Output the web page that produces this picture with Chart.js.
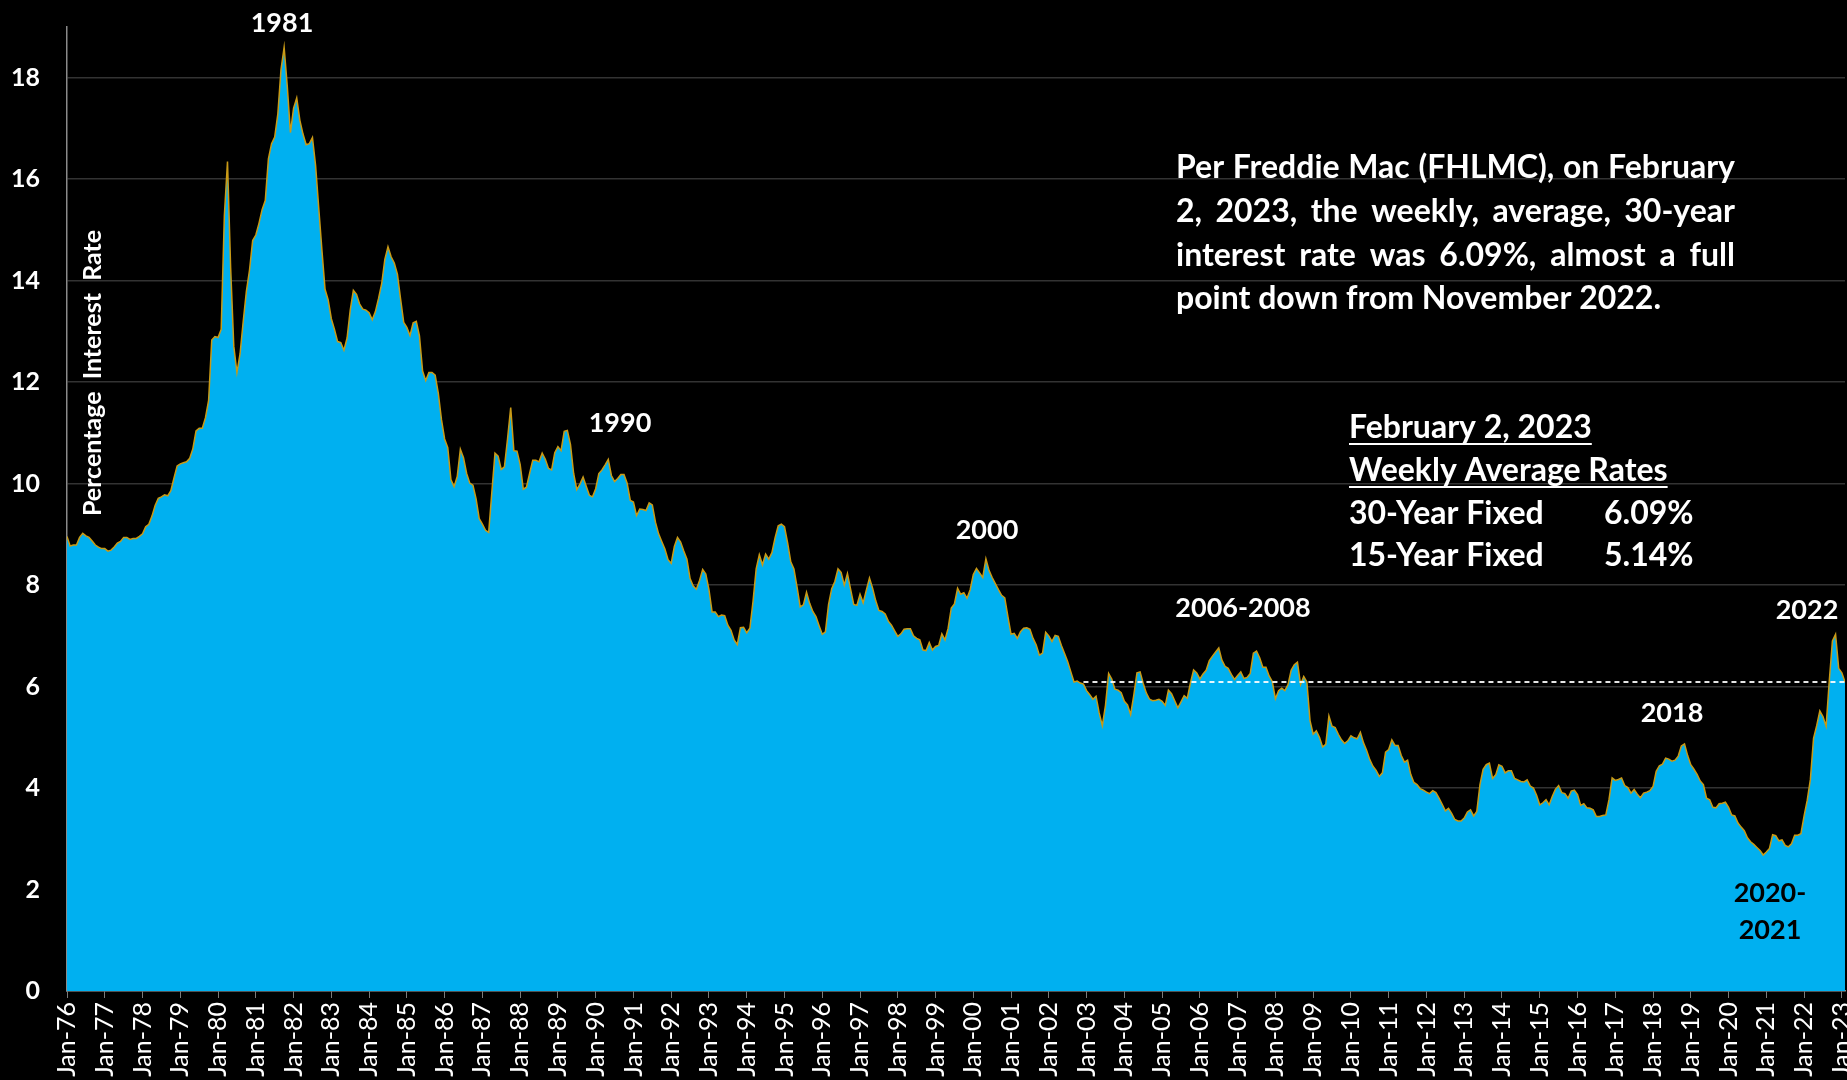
<!DOCTYPE html>
<html>
<head>
<meta charset="utf-8">
<title>30-Year Mortgage Rates</title>
<script src="https://cdn.jsdelivr.net/npm/chart.js@4.4.0/dist/chart.umd.min.js"></script>
<style>
  html, body { margin: 0; padding: 0; background: #000; }
  #wrap { width: 1847px; height: 1080px; }
</style>
</head>
<body>
<div id="wrap"><canvas id="rateChart" width="1847" height="1080"></canvas></div>
<script>
// Freddie Mac 30-year fixed rate, monthly, Jan 1976 .. Feb 2023
const rates1976to1979 = [
    8.96, 8.77, 8.79, 8.79, 8.94, 9.02, 8.97, 8.94, 8.87, 8.79, 8.75, 8.72,
    8.72, 8.67, 8.69, 8.75, 8.83, 8.86, 8.94, 8.94, 8.90, 8.92, 8.92, 8.96,
    9.01, 9.15, 9.20, 9.36, 9.57, 9.71, 9.74, 9.78, 9.76, 9.86, 10.11, 10.35,
    10.39, 10.41, 10.43, 10.50, 10.69, 11.04, 11.09, 11.09, 11.30, 11.64, 12.83, 12.90
];
const rates1980s = [
    12.88, 13.04, 15.28, 16.35, 14.26, 12.71, 12.19, 12.56, 13.20, 13.79, 14.21, 14.79,
    14.90, 15.13, 15.40, 15.58, 16.40, 16.70, 16.83, 17.29, 18.16, 18.60, 17.83, 16.92,
    17.40, 17.60, 17.16, 16.89, 16.68, 16.70, 16.82, 16.27, 15.43, 14.61, 13.83, 13.62,
    13.25, 13.04, 12.80, 12.78, 12.63, 12.87, 13.42, 13.81, 13.73, 13.54, 13.44, 13.42,
    13.37, 13.23, 13.39, 13.65, 13.94, 14.42, 14.67, 14.47, 14.35, 14.13, 13.64, 13.18,
    13.08, 12.92, 13.17, 13.20, 12.91, 12.22, 12.03, 12.19, 12.19, 12.14, 11.78, 11.26,
    10.88, 10.71, 10.08, 9.94, 10.14, 10.68, 10.51, 10.20, 10.01, 9.97, 9.70, 9.31,
    9.20, 9.08, 9.04, 9.83, 10.60, 10.54, 10.28, 10.33, 10.89, 11.50, 10.65, 10.64,
    10.38, 9.89, 9.93, 10.20, 10.46, 10.46, 10.43, 10.60, 10.48, 10.30, 10.27, 10.61,
    10.73, 10.65, 11.03, 11.05, 10.77, 10.20, 9.88, 9.99, 10.13, 9.95, 9.77, 9.74
];
const rates1990s = [
    9.90, 10.20, 10.27, 10.37, 10.48, 10.16, 10.04, 10.10, 10.18, 10.18, 10.01, 9.67,
    9.64, 9.37, 9.50, 9.49, 9.47, 9.62, 9.58, 9.24, 9.01, 8.86, 8.71, 8.50,
    8.43, 8.76, 8.94, 8.85, 8.67, 8.51, 8.13, 7.98, 7.92, 8.09, 8.31, 8.22,
    7.91, 7.47, 7.47, 7.38, 7.41, 7.40, 7.21, 7.11, 6.92, 6.83, 7.16, 7.17,
    7.06, 7.15, 7.68, 8.32, 8.60, 8.40, 8.61, 8.51, 8.64, 8.93, 9.17, 9.20,
    9.15, 8.83, 8.46, 8.32, 7.96, 7.57, 7.61, 7.86, 7.64, 7.48, 7.38, 7.20,
    7.03, 7.08, 7.62, 7.93, 8.07, 8.32, 8.25, 8.00, 8.23, 7.92, 7.62, 7.60,
    7.82, 7.65, 7.90, 8.14, 7.94, 7.69, 7.50, 7.48, 7.43, 7.29, 7.21, 7.10,
    6.99, 7.04, 7.13, 7.14, 7.14, 7.00, 6.95, 6.92, 6.72, 6.71, 6.87, 6.72,
    6.79, 6.81, 7.04, 6.92, 7.15, 7.55, 7.63, 7.94, 7.82, 7.85, 7.74, 7.91
];
const rates2000s = [
    8.21, 8.33, 8.24, 8.15, 8.52, 8.29, 8.15, 8.03, 7.91, 7.80, 7.75, 7.38,
    7.03, 7.05, 6.95, 7.08, 7.15, 7.16, 7.13, 6.95, 6.82, 6.62, 6.66, 7.07,
    7.00, 6.89, 7.01, 6.99, 6.81, 6.65, 6.49, 6.29, 6.09, 6.11, 6.07, 6.05,
    5.92, 5.84, 5.75, 5.81, 5.48, 5.23, 5.63, 6.26, 6.15, 5.95, 5.93, 5.88,
    5.71, 5.64, 5.45, 5.83, 6.27, 6.29, 6.06, 5.87, 5.75, 5.72, 5.73, 5.75,
    5.71, 5.63, 5.93, 5.86, 5.72, 5.58, 5.70, 5.82, 5.77, 6.07, 6.33, 6.27,
    6.15, 6.25, 6.32, 6.51, 6.60, 6.68, 6.76, 6.52, 6.40, 6.36, 6.24, 6.14,
    6.22, 6.29, 6.16, 6.18, 6.26, 6.66, 6.70, 6.57, 6.38, 6.38, 6.21, 6.10,
    5.76, 5.92, 5.97, 5.92, 6.04, 6.32, 6.43, 6.48, 6.04, 6.20, 6.09, 5.33,
    5.06, 5.13, 5.00, 4.81, 4.86, 5.42, 5.22, 5.19, 5.06, 4.95, 4.88, 4.93
];
const rates2010s = [
    5.03, 4.99, 4.97, 5.10, 4.89, 4.74, 4.56, 4.43, 4.35, 4.23, 4.30, 4.71,
    4.76, 4.95, 4.84, 4.84, 4.64, 4.51, 4.55, 4.27, 4.11, 4.07, 3.99, 3.96,
    3.92, 3.89, 3.95, 3.91, 3.80, 3.68, 3.55, 3.60, 3.50, 3.38, 3.35, 3.35,
    3.41, 3.53, 3.57, 3.45, 3.54, 4.07, 4.37, 4.46, 4.49, 4.19, 4.26, 4.46,
    4.43, 4.30, 4.34, 4.34, 4.19, 4.16, 4.13, 4.12, 4.16, 4.04, 4.00, 3.86,
    3.67, 3.71, 3.77, 3.67, 3.84, 3.98, 4.05, 3.91, 3.89, 3.80, 3.94, 3.96,
    3.87, 3.66, 3.69, 3.61, 3.60, 3.57, 3.44, 3.44, 3.46, 3.47, 3.77, 4.20,
    4.15, 4.17, 4.20, 4.05, 4.01, 3.90, 3.97, 3.88, 3.81, 3.90, 3.92, 3.95,
    4.03, 4.33, 4.44, 4.47, 4.59, 4.57, 4.53, 4.55, 4.63, 4.83, 4.87, 4.64,
    4.46, 4.37, 4.27, 4.14, 4.07, 3.80, 3.77, 3.62, 3.61, 3.69, 3.70, 3.72
];
const rates2020s = [
    3.62, 3.47, 3.45, 3.31, 3.23, 3.16, 3.02, 2.94, 2.89, 2.83, 2.77, 2.68,
    2.74, 2.81, 3.08, 3.06, 2.96, 2.98, 2.87, 2.84, 2.90, 3.07, 3.07, 3.10,
    3.45, 3.76, 4.17, 4.98, 5.23, 5.52, 5.41, 5.22, 6.11, 6.90, 7.03, 6.36,
    6.27, 6.09
];

const yearLabels = [
    'Jan-76', 'Jan-77', 'Jan-78', 'Jan-79', 'Jan-80', 'Jan-81', 'Jan-82', 'Jan-83',
    'Jan-84', 'Jan-85', 'Jan-86', 'Jan-87', 'Jan-88', 'Jan-89', 'Jan-90', 'Jan-91',
    'Jan-92', 'Jan-93', 'Jan-94', 'Jan-95', 'Jan-96', 'Jan-97', 'Jan-98', 'Jan-99',
    'Jan-00', 'Jan-01', 'Jan-02', 'Jan-03', 'Jan-04', 'Jan-05', 'Jan-06', 'Jan-07',
    'Jan-08', 'Jan-09', 'Jan-10', 'Jan-11', 'Jan-12', 'Jan-13', 'Jan-14', 'Jan-15',
    'Jan-16', 'Jan-17', 'Jan-18', 'Jan-19', 'Jan-20', 'Jan-21', 'Jan-22', 'Jan-23'
];

const yTicks = [0, 2, 4, 6, 8, 10, 12, 14, 16, 18];

// Feb 2, 2023 weekly averages
const rate30 = 6.09;
const rate15 = 5.14;
// dashed reference line at the latest 30-year rate, drawn from Dec 2002 on
const refLineFrom = { year: 2002, month: 12 };

const allRates = [].concat(rates1976to1979, rates1980s, rates1990s, rates2000s, rates2010s, rates2020s);
const ratePoints = allRates.map((v, i) => ({ x: i, y: v }));
const refStart = (refLineFrom.year - 1976) * 12 + (refLineFrom.month - 1);
const refPoints = [{ x: refStart, y: rate30 }, { x: allRates.length - 1, y: rate30 }];

const FONT = "Lato, 'Open Sans', sans-serif";

const blackBackground = {
    id: 'blackBackground',
    beforeDraw(chart) {
        const c = chart.ctx;
        c.save();
        c.fillStyle = '#000';
        c.fillRect(0, 0, chart.width, chart.height);
        c.restore();
    }
};

function underline(c, text, x, y) {
    const w = c.measureText(text).width;
    c.fillRect(x, y + 15, w, 2);
}

function justified(c, text, x0, x1, y) {
    const words = text.split(' ');
    const widths = words.map(w => c.measureText(w).width);
    const total = widths.reduce((a, b) => a + b, 0);
    const gap = (x1 - x0 - total) / (words.length - 1);
    let x = x0;
    words.forEach((w, i) => {
        c.fillText(w, x, y);
        x += widths[i] + gap;
    });
}

const annotations = {
    id: 'annotations',
    afterDraw(chart) {
        const c = chart.ctx;
        c.save();

        // axis title sits inside the plot
        c.save();
        c.translate(93, 373);
        c.rotate(-Math.PI / 2);
        c.fillStyle = '#fff';
        c.font = 'bold 25px ' + FONT;
        c.textAlign = 'center';
        c.textBaseline = 'middle';
        c.fillText('Percentage  Interest  Rate', 0, 0);
        c.restore();

        // year callouts
        c.font = 'bold 27px ' + FONT;
        c.textAlign = 'center';
        c.textBaseline = 'middle';
        c.fillStyle = '#fff';
        c.fillText('1981', 282, 23);
        c.fillText('1990', 620, 423);
        c.fillText('2000', 987, 530);
        c.fillText('2006-2008', 1243, 608);
        c.fillText('2018', 1672, 713);
        c.fillText('2022', 1807, 610);
        c.fillStyle = '#000';
        c.fillText('2020-', 1770, 893);
        c.fillText('2021', 1770, 930);

        // paragraph, justified; size picked so the short last line matches
        c.fillStyle = '#fff';
        c.textAlign = 'left';
        const last = 'point down from November 2022.';
        c.font = 'bold 30px ' + FONT;
        const size = Math.round(30 * 484 / c.measureText(last).width);
        c.font = 'bold ' + size + 'px ' + FONT;
        justified(c, 'Per Freddie Mac (FHLMC), on February', 1176, 1735, 168);
        justified(c, '2, 2023, the weekly, average, 30-year', 1176, 1735, 212);
        justified(c, 'interest rate was 6.09%, almost a full', 1176, 1735, 256);
        c.fillText(last, 1176, 299);

        // rate box
        c.fillText('February 2, 2023', 1349, 428);
        underline(c, 'February 2, 2023', 1349, 428);
        c.fillText('Weekly Average Rates', 1349, 471);
        underline(c, 'Weekly Average Rates', 1349, 471);
        c.fillText('30-Year Fixed', 1349, 514);
        c.fillText(rate30.toFixed(2) + '%', 1604, 514);
        c.fillText('15-Year Fixed', 1349, 556);
        c.fillText(rate15.toFixed(2) + '%', 1604, 556);

        c.restore();
    }
};

const ctx = document.getElementById('rateChart').getContext('2d');

new Chart(ctx, {
    type: 'line',
    data: {
        datasets: [
            {
                label: '30-Year Fixed',
                data: ratePoints,
                borderColor: '#c99a16',
                borderWidth: 1.5,
                backgroundColor: '#00b0f0',
                fill: 'origin',
                pointRadius: 0,
                tension: 0,
                order: 2
            },
            {
                label: 'Latest rate',
                data: refPoints,
                borderColor: 'rgba(255,255,255,0.9)',
                borderWidth: 2,
                borderDash: [5, 4],
                fill: false,
                pointRadius: 0,
                order: 1
            }
        ]
    },
    options: {
        responsive: false,
        animation: false,
        layout: { padding: { top: 27, right: 2, left: 0, bottom: 0 } },
        plugins: {
            legend: { display: false },
            tooltip: { enabled: false }
        },
        scales: {
            x: {
                type: 'linear',
                min: 0,
                max: allRates.length - 1,
                afterBuildTicks: scale => {
                    scale.ticks = yearLabels.map((_, i) => ({ value: i * 12 }));
                },
                afterFit: scale => {
                    scale.height = 89;
                    scale.paddingLeft = 0;
                    scale.paddingRight = 0;
                },
                ticks: {
                    autoSkip: false,
                    minRotation: 90,
                    maxRotation: 90,
                    padding: 4,
                    color: '#fff',
                    font: { family: FONT, size: 25 },
                    callback: value => yearLabels[Math.round(value / 12)]
                },
                grid: {
                    drawOnChartArea: false,
                    drawTicks: true,
                    tickLength: 7,
                    color: '#7a7a7a'
                },
                border: { color: '#8a8a8a', width: 1.5 }
            },
            y: {
                min: 0,
                max: 19,
                afterBuildTicks: scale => {
                    scale.ticks = yTicks.map(v => ({ value: v }));
                },
                afterFit: scale => {
                    scale.width = 67;
                    scale.paddingTop = 0;
                    scale.paddingBottom = 0;
                },
                ticks: {
                    padding: 27,
                    color: '#fff',
                    font: { family: FONT, size: 25, weight: 'bold' }
                },
                grid: {
                    drawTicks: false,
                    color: 'rgba(255,255,255,0.2)',
                    lineWidth: 1.5
                },
                border: { color: '#8a8a8a', width: 1.5 }
            }
        }
    },
    plugins: [blackBackground, annotations]
});
</script>
</body>
</html>
